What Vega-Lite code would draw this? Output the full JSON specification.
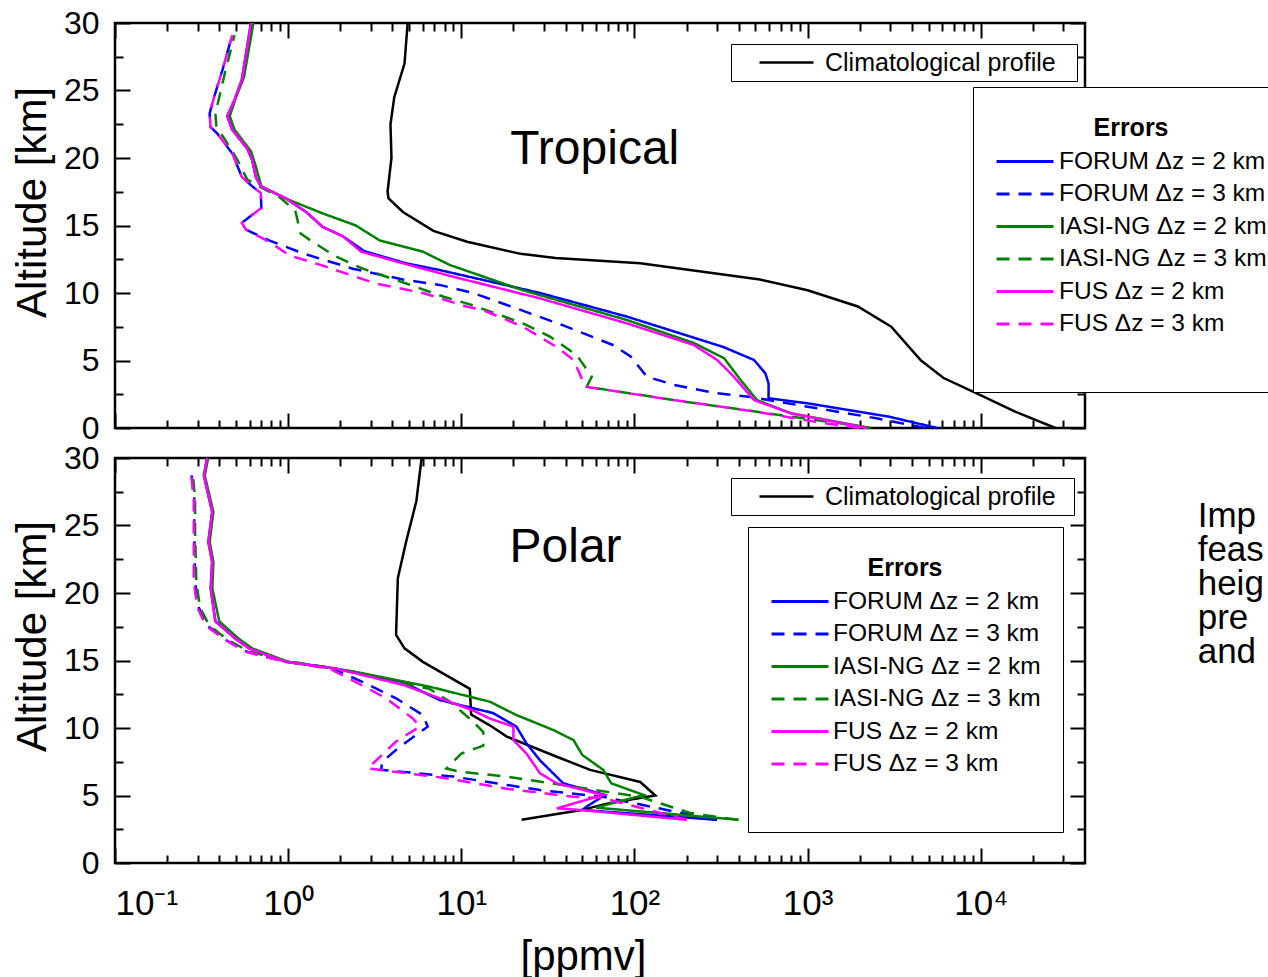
{
"$schema": "https://vega.github.io/schema/vega-lite/v6.json",
"autosize": {"type": "none"},
"padding": {"left": 115, "top": 23, "right": 1153, "bottom": 954},
"background": "white",
"config": {
  "font": "Liberation Sans",
  "view": {"stroke": "black", "strokeWidth": 2.5},
  "axis": {"grid": false, "domain": false, "tickColor": "black", "tickWidth": 2, "labelColor": "black", "titleColor": "black", "labelFont": "Liberation Sans", "titleFont": "Liberation Sans", "titleFontWeight": "normal", "labelFlush": false, "labelOverlap": false},
  "legend": {"labelFont": "Liberation Sans", "titleFont": "Liberation Sans", "labelColor": "black", "titleColor": "black"},
  "text": {"font": "Liberation Sans"}
},
"data": {"values": [
{"panel":"Tropical","series":"Climatological profile","alt":30,"ppmv":4.9},
{"panel":"Tropical","series":"Climatological profile","alt":27,"ppmv":4.7},
{"panel":"Tropical","series":"Climatological profile","alt":24.5,"ppmv":4.1},
{"panel":"Tropical","series":"Climatological profile","alt":22.5,"ppmv":3.9},
{"panel":"Tropical","series":"Climatological profile","alt":20,"ppmv":3.95},
{"panel":"Tropical","series":"Climatological profile","alt":17.5,"ppmv":3.75},
{"panel":"Tropical","series":"Climatological profile","alt":17,"ppmv":3.8},
{"panel":"Tropical","series":"Climatological profile","alt":16,"ppmv":4.6},
{"panel":"Tropical","series":"Climatological profile","alt":14.6,"ppmv":6.9},
{"panel":"Tropical","series":"Climatological profile","alt":13.8,"ppmv":10.8},
{"panel":"Tropical","series":"Climatological profile","alt":12.9,"ppmv":22},
{"panel":"Tropical","series":"Climatological profile","alt":12.6,"ppmv":35},
{"panel":"Tropical","series":"Climatological profile","alt":12.2,"ppmv":108},
{"panel":"Tropical","series":"Climatological profile","alt":11,"ppmv":530},
{"panel":"Tropical","series":"Climatological profile","alt":10.2,"ppmv":1000},
{"panel":"Tropical","series":"Climatological profile","alt":9,"ppmv":1950},
{"panel":"Tropical","series":"Climatological profile","alt":7.5,"ppmv":3040},
{"panel":"Tropical","series":"Climatological profile","alt":5,"ppmv":4520},
{"panel":"Tropical","series":"Climatological profile","alt":3.7,"ppmv":6100},
{"panel":"Tropical","series":"Climatological profile","alt":2.4,"ppmv":10100},
{"panel":"Tropical","series":"Climatological profile","alt":1.2,"ppmv":15900},
{"panel":"Tropical","series":"Climatological profile","alt":0,"ppmv":27000},

{"panel":"Tropical","series":"FORUM Δz = 2 km","alt":30,"ppmv":0.61},
{"panel":"Tropical","series":"FORUM Δz = 2 km","alt":25.8,"ppmv":0.54},
{"panel":"Tropical","series":"FORUM Δz = 2 km","alt":24.3,"ppmv":0.49},
{"panel":"Tropical","series":"FORUM Δz = 2 km","alt":23.1,"ppmv":0.445},
{"panel":"Tropical","series":"FORUM Δz = 2 km","alt":22.1,"ppmv":0.475},
{"panel":"Tropical","series":"FORUM Δz = 2 km","alt":20.7,"ppmv":0.58},
{"panel":"Tropical","series":"FORUM Δz = 2 km","alt":19.85,"ppmv":0.62},
{"panel":"Tropical","series":"FORUM Δz = 2 km","alt":18.6,"ppmv":0.65},
{"panel":"Tropical","series":"FORUM Δz = 2 km","alt":17.9,"ppmv":0.695},
{"panel":"Tropical","series":"FORUM Δz = 2 km","alt":17,"ppmv":0.97},
{"panel":"Tropical","series":"FORUM Δz = 2 km","alt":16,"ppmv":1.27},
{"panel":"Tropical","series":"FORUM Δz = 2 km","alt":14.9,"ppmv":1.58},
{"panel":"Tropical","series":"FORUM Δz = 2 km","alt":14.2,"ppmv":2.07},
{"panel":"Tropical","series":"FORUM Δz = 2 km","alt":13.1,"ppmv":2.75},
{"panel":"Tropical","series":"FORUM Δz = 2 km","alt":12.2,"ppmv":4.8},
{"panel":"Tropical","series":"FORUM Δz = 2 km","alt":11.7,"ppmv":7.5},
{"panel":"Tropical","series":"FORUM Δz = 2 km","alt":10,"ppmv":28.5},
{"panel":"Tropical","series":"FORUM Δz = 2 km","alt":8.25,"ppmv":90.5},
{"panel":"Tropical","series":"FORUM Δz = 2 km","alt":6,"ppmv":326},
{"panel":"Tropical","series":"FORUM Δz = 2 km","alt":5.04,"ppmv":490},
{"panel":"Tropical","series":"FORUM Δz = 2 km","alt":4.05,"ppmv":570},
{"panel":"Tropical","series":"FORUM Δz = 2 km","alt":3.3,"ppmv":595},
{"panel":"Tropical","series":"FORUM Δz = 2 km","alt":2.2,"ppmv":595},
{"panel":"Tropical","series":"FORUM Δz = 2 km","alt":1.83,"ppmv":1000},
{"panel":"Tropical","series":"FORUM Δz = 2 km","alt":0.84,"ppmv":2950},
{"panel":"Tropical","series":"FORUM Δz = 2 km","alt":0,"ppmv":5600},

{"panel":"Tropical","series":"FORUM Δz = 3 km","alt":29.1,"ppmv":0.475},
{"panel":"Tropical","series":"FORUM Δz = 3 km","alt":26.5,"ppmv":0.417},
{"panel":"Tropical","series":"FORUM Δz = 3 km","alt":24.5,"ppmv":0.373},
{"panel":"Tropical","series":"FORUM Δz = 3 km","alt":23.3,"ppmv":0.352},
{"panel":"Tropical","series":"FORUM Δz = 3 km","alt":22.3,"ppmv":0.356},
{"panel":"Tropical","series":"FORUM Δz = 3 km","alt":21.8,"ppmv":0.39},
{"panel":"Tropical","series":"FORUM Δz = 3 km","alt":20.35,"ppmv":0.475},
{"panel":"Tropical","series":"FORUM Δz = 3 km","alt":18.6,"ppmv":0.54},
{"panel":"Tropical","series":"FORUM Δz = 3 km","alt":17.9,"ppmv":0.62},
{"panel":"Tropical","series":"FORUM Δz = 3 km","alt":17.4,"ppmv":0.695},
{"panel":"Tropical","series":"FORUM Δz = 3 km","alt":16.3,"ppmv":0.7},
{"panel":"Tropical","series":"FORUM Δz = 3 km","alt":15.2,"ppmv":0.54},
{"panel":"Tropical","series":"FORUM Δz = 3 km","alt":14.7,"ppmv":0.57},
{"panel":"Tropical","series":"FORUM Δz = 3 km","alt":13.9,"ppmv":0.776},
{"panel":"Tropical","series":"FORUM Δz = 3 km","alt":12.9,"ppmv":1.24},
{"panel":"Tropical","series":"FORUM Δz = 3 km","alt":11.8,"ppmv":2.36},
{"panel":"Tropical","series":"FORUM Δz = 3 km","alt":11,"ppmv":4.6},
{"panel":"Tropical","series":"FORUM Δz = 3 km","alt":10.6,"ppmv":7.5},
{"panel":"Tropical","series":"FORUM Δz = 3 km","alt":10,"ppmv":11.7},
{"panel":"Tropical","series":"FORUM Δz = 3 km","alt":8.86,"ppmv":20.8},
{"panel":"Tropical","series":"FORUM Δz = 3 km","alt":7.6,"ppmv":38.8},
{"panel":"Tropical","series":"FORUM Δz = 3 km","alt":6.15,"ppmv":75},
{"panel":"Tropical","series":"FORUM Δz = 3 km","alt":5.3,"ppmv":95},
{"panel":"Tropical","series":"FORUM Δz = 3 km","alt":3.8,"ppmv":118},
{"panel":"Tropical","series":"FORUM Δz = 3 km","alt":3.2,"ppmv":168},
{"panel":"Tropical","series":"FORUM Δz = 3 km","alt":2.57,"ppmv":300},
{"panel":"Tropical","series":"FORUM Δz = 3 km","alt":2.3,"ppmv":470},
{"panel":"Tropical","series":"FORUM Δz = 3 km","alt":1.58,"ppmv":1000},
{"panel":"Tropical","series":"FORUM Δz = 3 km","alt":0.72,"ppmv":2500},
{"panel":"Tropical","series":"FORUM Δz = 3 km","alt":0,"ppmv":4800},

{"panel":"Tropical","series":"IASI-NG Δz = 2 km","alt":30,"ppmv":0.63},
{"panel":"Tropical","series":"IASI-NG Δz = 2 km","alt":26,"ppmv":0.556},
{"panel":"Tropical","series":"IASI-NG Δz = 2 km","alt":24.5,"ppmv":0.5},
{"panel":"Tropical","series":"IASI-NG Δz = 2 km","alt":23.1,"ppmv":0.46},
{"panel":"Tropical","series":"IASI-NG Δz = 2 km","alt":22.1,"ppmv":0.49},
{"panel":"Tropical","series":"IASI-NG Δz = 2 km","alt":20.5,"ppmv":0.61},
{"panel":"Tropical","series":"IASI-NG Δz = 2 km","alt":19.4,"ppmv":0.65},
{"panel":"Tropical","series":"IASI-NG Δz = 2 km","alt":17.9,"ppmv":0.7},
{"panel":"Tropical","series":"IASI-NG Δz = 2 km","alt":16.9,"ppmv":1.01},
{"panel":"Tropical","series":"IASI-NG Δz = 2 km","alt":15.9,"ppmv":1.58},
{"panel":"Tropical","series":"IASI-NG Δz = 2 km","alt":15,"ppmv":2.46},
{"panel":"Tropical","series":"IASI-NG Δz = 2 km","alt":13.9,"ppmv":3.37},
{"panel":"Tropical","series":"IASI-NG Δz = 2 km","alt":13.06,"ppmv":6},
{"panel":"Tropical","series":"IASI-NG Δz = 2 km","alt":12.07,"ppmv":8.6},
{"panel":"Tropical","series":"IASI-NG Δz = 2 km","alt":10.2,"ppmv":22.7},
{"panel":"Tropical","series":"IASI-NG Δz = 2 km","alt":8,"ppmv":90.5},
{"panel":"Tropical","series":"IASI-NG Δz = 2 km","alt":6.3,"ppmv":220},
{"panel":"Tropical","series":"IASI-NG Δz = 2 km","alt":5.16,"ppmv":330},
{"panel":"Tropical","series":"IASI-NG Δz = 2 km","alt":3.56,"ppmv":410},
{"panel":"Tropical","series":"IASI-NG Δz = 2 km","alt":2.07,"ppmv":510},
{"panel":"Tropical","series":"IASI-NG Δz = 2 km","alt":1.09,"ppmv":800},
{"panel":"Tropical","series":"IASI-NG Δz = 2 km","alt":0,"ppmv":2300},

{"panel":"Tropical","series":"IASI-NG Δz = 3 km","alt":29.1,"ppmv":0.49},
{"panel":"Tropical","series":"IASI-NG Δz = 3 km","alt":26.5,"ppmv":0.435},
{"panel":"Tropical","series":"IASI-NG Δz = 3 km","alt":24.5,"ppmv":0.4},
{"panel":"Tropical","series":"IASI-NG Δz = 3 km","alt":23.3,"ppmv":0.38},
{"panel":"Tropical","series":"IASI-NG Δz = 3 km","alt":22.3,"ppmv":0.385},
{"panel":"Tropical","series":"IASI-NG Δz = 3 km","alt":21.3,"ppmv":0.435},
{"panel":"Tropical","series":"IASI-NG Δz = 3 km","alt":19.85,"ppmv":0.51},
{"panel":"Tropical","series":"IASI-NG Δz = 3 km","alt":18.4,"ppmv":0.58},
{"panel":"Tropical","series":"IASI-NG Δz = 3 km","alt":17.9,"ppmv":0.68},
{"panel":"Tropical","series":"IASI-NG Δz = 3 km","alt":17.1,"ppmv":0.89},
{"panel":"Tropical","series":"IASI-NG Δz = 3 km","alt":16.1,"ppmv":1.1},
{"panel":"Tropical","series":"IASI-NG Δz = 3 km","alt":14.4,"ppmv":1.18},
{"panel":"Tropical","series":"IASI-NG Δz = 3 km","alt":13.8,"ppmv":1.38},
{"panel":"Tropical","series":"IASI-NG Δz = 3 km","alt":12.7,"ppmv":1.89},
{"panel":"Tropical","series":"IASI-NG Δz = 3 km","alt":11.8,"ppmv":2.7},
{"panel":"Tropical","series":"IASI-NG Δz = 3 km","alt":10.7,"ppmv":4.8},
{"panel":"Tropical","series":"IASI-NG Δz = 3 km","alt":9.7,"ppmv":8},
{"panel":"Tropical","series":"IASI-NG Δz = 3 km","alt":9.1,"ppmv":11.6},
{"panel":"Tropical","series":"IASI-NG Δz = 3 km","alt":7.75,"ppmv":22.7},
{"panel":"Tropical","series":"IASI-NG Δz = 3 km","alt":6.77,"ppmv":32.5},
{"panel":"Tropical","series":"IASI-NG Δz = 3 km","alt":5.4,"ppmv":46.4},
{"panel":"Tropical","series":"IASI-NG Δz = 3 km","alt":3.8,"ppmv":56.7},
{"panel":"Tropical","series":"IASI-NG Δz = 3 km","alt":3.06,"ppmv":53},
{"panel":"Tropical","series":"IASI-NG Δz = 3 km","alt":2.07,"ppmv":168},
{"panel":"Tropical","series":"IASI-NG Δz = 3 km","alt":1.2,"ppmv":510},
{"panel":"Tropical","series":"IASI-NG Δz = 3 km","alt":0.35,"ppmv":1530},
{"panel":"Tropical","series":"IASI-NG Δz = 3 km","alt":0,"ppmv":2300},

{"panel":"Tropical","series":"FUS Δz = 2 km","alt":30,"ppmv":0.61},
{"panel":"Tropical","series":"FUS Δz = 2 km","alt":25.8,"ppmv":0.54},
{"panel":"Tropical","series":"FUS Δz = 2 km","alt":24.3,"ppmv":0.49},
{"panel":"Tropical","series":"FUS Δz = 2 km","alt":23.1,"ppmv":0.445},
{"panel":"Tropical","series":"FUS Δz = 2 km","alt":22.1,"ppmv":0.475},
{"panel":"Tropical","series":"FUS Δz = 2 km","alt":20.7,"ppmv":0.58},
{"panel":"Tropical","series":"FUS Δz = 2 km","alt":19.85,"ppmv":0.62},
{"panel":"Tropical","series":"FUS Δz = 2 km","alt":18.6,"ppmv":0.65},
{"panel":"Tropical","series":"FUS Δz = 2 km","alt":17.9,"ppmv":0.695},
{"panel":"Tropical","series":"FUS Δz = 2 km","alt":17,"ppmv":0.97},
{"panel":"Tropical","series":"FUS Δz = 2 km","alt":16,"ppmv":1.27},
{"panel":"Tropical","series":"FUS Δz = 2 km","alt":14.9,"ppmv":1.58},
{"panel":"Tropical","series":"FUS Δz = 2 km","alt":14.2,"ppmv":2.07},
{"panel":"Tropical","series":"FUS Δz = 2 km","alt":13.06,"ppmv":2.64},
{"panel":"Tropical","series":"FUS Δz = 2 km","alt":12.2,"ppmv":4.6},
{"panel":"Tropical","series":"FUS Δz = 2 km","alt":11.2,"ppmv":9},
{"panel":"Tropical","series":"FUS Δz = 2 km","alt":9.6,"ppmv":28.5},
{"panel":"Tropical","series":"FUS Δz = 2 km","alt":7.75,"ppmv":90.5},
{"panel":"Tropical","series":"FUS Δz = 2 km","alt":6.15,"ppmv":220},
{"panel":"Tropical","series":"FUS Δz = 2 km","alt":5.04,"ppmv":300},
{"panel":"Tropical","series":"FUS Δz = 2 km","alt":3.8,"ppmv":375},
{"panel":"Tropical","series":"FUS Δz = 2 km","alt":2.07,"ppmv":490},
{"panel":"Tropical","series":"FUS Δz = 2 km","alt":1.09,"ppmv":800},
{"panel":"Tropical","series":"FUS Δz = 2 km","alt":0,"ppmv":2200},

{"panel":"Tropical","series":"FUS Δz = 3 km","alt":29.1,"ppmv":0.475},
{"panel":"Tropical","series":"FUS Δz = 3 km","alt":26.5,"ppmv":0.417},
{"panel":"Tropical","series":"FUS Δz = 3 km","alt":24.5,"ppmv":0.373},
{"panel":"Tropical","series":"FUS Δz = 3 km","alt":23.3,"ppmv":0.352},
{"panel":"Tropical","series":"FUS Δz = 3 km","alt":22.3,"ppmv":0.356},
{"panel":"Tropical","series":"FUS Δz = 3 km","alt":21.8,"ppmv":0.39},
{"panel":"Tropical","series":"FUS Δz = 3 km","alt":20.35,"ppmv":0.475},
{"panel":"Tropical","series":"FUS Δz = 3 km","alt":18.6,"ppmv":0.54},
{"panel":"Tropical","series":"FUS Δz = 3 km","alt":17.9,"ppmv":0.62},
{"panel":"Tropical","series":"FUS Δz = 3 km","alt":17.4,"ppmv":0.695},
{"panel":"Tropical","series":"FUS Δz = 3 km","alt":16.3,"ppmv":0.7},
{"panel":"Tropical","series":"FUS Δz = 3 km","alt":15.2,"ppmv":0.54},
{"panel":"Tropical","series":"FUS Δz = 3 km","alt":14.7,"ppmv":0.57},
{"panel":"Tropical","series":"FUS Δz = 3 km","alt":13.8,"ppmv":0.776},
{"panel":"Tropical","series":"FUS Δz = 3 km","alt":12.8,"ppmv":1.01},
{"panel":"Tropical","series":"FUS Δz = 3 km","alt":11.95,"ppmv":1.65},
{"panel":"Tropical","series":"FUS Δz = 3 km","alt":10.7,"ppmv":3.2},
{"panel":"Tropical","series":"FUS Δz = 3 km","alt":10,"ppmv":6},
{"panel":"Tropical","series":"FUS Δz = 3 km","alt":9,"ppmv":10.7},
{"panel":"Tropical","series":"FUS Δz = 3 km","alt":8.74,"ppmv":13.3},
{"panel":"Tropical","series":"FUS Δz = 3 km","alt":7.5,"ppmv":22.7},
{"panel":"Tropical","series":"FUS Δz = 3 km","alt":6,"ppmv":35.5},
{"panel":"Tropical","series":"FUS Δz = 3 km","alt":5.04,"ppmv":44.5},
{"panel":"Tropical","series":"FUS Δz = 3 km","alt":3.06,"ppmv":52},
{"panel":"Tropical","series":"FUS Δz = 3 km","alt":2.07,"ppmv":168},
{"panel":"Tropical","series":"FUS Δz = 3 km","alt":1.2,"ppmv":510},
{"panel":"Tropical","series":"FUS Δz = 3 km","alt":0.35,"ppmv":1250},
{"panel":"Tropical","series":"FUS Δz = 3 km","alt":0,"ppmv":2000},

{"panel":"Polar","series":"Climatological profile","alt":30,"ppmv":5.9},
{"panel":"Polar","series":"Climatological profile","alt":26.8,"ppmv":5.5},
{"panel":"Polar","series":"Climatological profile","alt":23.8,"ppmv":4.8},
{"panel":"Polar","series":"Climatological profile","alt":21.1,"ppmv":4.3},
{"panel":"Polar","series":"Climatological profile","alt":16.9,"ppmv":4.2},
{"panel":"Polar","series":"Climatological profile","alt":15.9,"ppmv":4.7},
{"panel":"Polar","series":"Climatological profile","alt":14.9,"ppmv":6},
{"panel":"Polar","series":"Climatological profile","alt":13.9,"ppmv":8.2},
{"panel":"Polar","series":"Climatological profile","alt":12.9,"ppmv":11.2},
{"panel":"Polar","series":"Climatological profile","alt":11,"ppmv":11.4},
{"panel":"Polar","series":"Climatological profile","alt":10.2,"ppmv":14.6},
{"panel":"Polar","series":"Climatological profile","alt":9.36,"ppmv":18.3},
{"panel":"Polar","series":"Climatological profile","alt":7.87,"ppmv":35.6},
{"panel":"Polar","series":"Climatological profile","alt":6.9,"ppmv":55.5},
{"panel":"Polar","series":"Climatological profile","alt":6,"ppmv":108},
{"panel":"Polar","series":"Climatological profile","alt":5,"ppmv":132},
{"panel":"Polar","series":"Climatological profile","alt":4.4,"ppmv":69.6},
{"panel":"Polar","series":"Climatological profile","alt":3.9,"ppmv":48.5},
{"panel":"Polar","series":"Climatological profile","alt":3.2,"ppmv":22.3},

{"panel":"Polar","series":"FORUM Δz = 2 km","alt":30,"ppmv":0.34},
{"panel":"Polar","series":"FORUM Δz = 2 km","alt":28.7,"ppmv":0.326},
{"panel":"Polar","series":"FORUM Δz = 2 km","alt":26,"ppmv":0.364},
{"panel":"Polar","series":"FORUM Δz = 2 km","alt":23.8,"ppmv":0.346},
{"panel":"Polar","series":"FORUM Δz = 2 km","alt":22.3,"ppmv":0.364},
{"panel":"Polar","series":"FORUM Δz = 2 km","alt":20.35,"ppmv":0.357},
{"panel":"Polar","series":"FORUM Δz = 2 km","alt":17.9,"ppmv":0.38},
{"panel":"Polar","series":"FORUM Δz = 2 km","alt":16.6,"ppmv":0.498},
{"panel":"Polar","series":"FORUM Δz = 2 km","alt":15.9,"ppmv":0.594},
{"panel":"Polar","series":"FORUM Δz = 2 km","alt":14.9,"ppmv":0.97},
{"panel":"Polar","series":"FORUM Δz = 2 km","alt":14.4,"ppmv":1.89},
{"panel":"Polar","series":"FORUM Δz = 2 km","alt":13.4,"ppmv":4.6},
{"panel":"Polar","series":"FORUM Δz = 2 km","alt":12.07,"ppmv":7.5},
{"panel":"Polar","series":"FORUM Δz = 2 km","alt":11.1,"ppmv":15.3},
{"panel":"Polar","series":"FORUM Δz = 2 km","alt":10.1,"ppmv":20.8},
{"panel":"Polar","series":"FORUM Δz = 2 km","alt":8.86,"ppmv":23.8},
{"panel":"Polar","series":"FORUM Δz = 2 km","alt":7.6,"ppmv":28.5},
{"panel":"Polar","series":"FORUM Δz = 2 km","alt":5.9,"ppmv":38.8},
{"panel":"Polar","series":"FORUM Δz = 2 km","alt":5.04,"ppmv":67.6},
{"panel":"Polar","series":"FORUM Δz = 2 km","alt":4.17,"ppmv":52.8},
{"panel":"Polar","series":"FORUM Δz = 2 km","alt":3.93,"ppmv":50},
{"panel":"Polar","series":"FORUM Δz = 2 km","alt":3.2,"ppmv":300},

{"panel":"Polar","series":"FORUM Δz = 3 km","alt":29.1,"ppmv":0.275},
{"panel":"Polar","series":"FORUM Δz = 3 km","alt":27,"ppmv":0.287},
{"panel":"Polar","series":"FORUM Δz = 3 km","alt":24.5,"ppmv":0.287},
{"panel":"Polar","series":"FORUM Δz = 3 km","alt":20.8,"ppmv":0.29},
{"panel":"Polar","series":"FORUM Δz = 3 km","alt":18.9,"ppmv":0.305},
{"panel":"Polar","series":"FORUM Δz = 3 km","alt":17.6,"ppmv":0.34},
{"panel":"Polar","series":"FORUM Δz = 3 km","alt":16.5,"ppmv":0.44},
{"panel":"Polar","series":"FORUM Δz = 3 km","alt":15.65,"ppmv":0.58},
{"panel":"Polar","series":"FORUM Δz = 3 km","alt":15,"ppmv":0.9},
{"panel":"Polar","series":"FORUM Δz = 3 km","alt":14.4,"ppmv":1.8},
{"panel":"Polar","series":"FORUM Δz = 3 km","alt":13.4,"ppmv":2.7},
{"panel":"Polar","series":"FORUM Δz = 3 km","alt":12.2,"ppmv":4.2},
{"panel":"Polar","series":"FORUM Δz = 3 km","alt":10.96,"ppmv":6},
{"panel":"Polar","series":"FORUM Δz = 3 km","alt":10.1,"ppmv":6.4},
{"panel":"Polar","series":"FORUM Δz = 3 km","alt":8.6,"ppmv":4.4},
{"panel":"Polar","series":"FORUM Δz = 3 km","alt":7.5,"ppmv":3.5},
{"panel":"Polar","series":"FORUM Δz = 3 km","alt":6.9,"ppmv":3.44},
{"panel":"Polar","series":"FORUM Δz = 3 km","alt":6.4,"ppmv":9},
{"panel":"Polar","series":"FORUM Δz = 3 km","alt":5.4,"ppmv":28.5},
{"panel":"Polar","series":"FORUM Δz = 3 km","alt":4.9,"ppmv":66},
{"panel":"Polar","series":"FORUM Δz = 3 km","alt":3.2,"ppmv":290},

{"panel":"Polar","series":"IASI-NG Δz = 2 km","alt":30,"ppmv":0.345},
{"panel":"Polar","series":"IASI-NG Δz = 2 km","alt":28.7,"ppmv":0.33},
{"panel":"Polar","series":"IASI-NG Δz = 2 km","alt":26,"ppmv":0.37},
{"panel":"Polar","series":"IASI-NG Δz = 2 km","alt":23.8,"ppmv":0.352},
{"panel":"Polar","series":"IASI-NG Δz = 2 km","alt":22.3,"ppmv":0.37},
{"panel":"Polar","series":"IASI-NG Δz = 2 km","alt":20.35,"ppmv":0.365},
{"panel":"Polar","series":"IASI-NG Δz = 2 km","alt":17.9,"ppmv":0.4},
{"panel":"Polar","series":"IASI-NG Δz = 2 km","alt":16.6,"ppmv":0.52},
{"panel":"Polar","series":"IASI-NG Δz = 2 km","alt":15.9,"ppmv":0.62},
{"panel":"Polar","series":"IASI-NG Δz = 2 km","alt":14.9,"ppmv":1},
{"panel":"Polar","series":"IASI-NG Δz = 2 km","alt":14.2,"ppmv":2.36},
{"panel":"Polar","series":"IASI-NG Δz = 2 km","alt":13.06,"ppmv":6.55},
{"panel":"Polar","series":"IASI-NG Δz = 2 km","alt":11.95,"ppmv":14.6},
{"panel":"Polar","series":"IASI-NG Δz = 2 km","alt":10.96,"ppmv":20.8},
{"panel":"Polar","series":"IASI-NG Δz = 2 km","alt":9.85,"ppmv":34},
{"panel":"Polar","series":"IASI-NG Δz = 2 km","alt":9.1,"ppmv":44.5},
{"panel":"Polar","series":"IASI-NG Δz = 2 km","alt":8,"ppmv":50},
{"panel":"Polar","series":"IASI-NG Δz = 2 km","alt":6.9,"ppmv":66},
{"panel":"Polar","series":"IASI-NG Δz = 2 km","alt":5.9,"ppmv":73.5},
{"panel":"Polar","series":"IASI-NG Δz = 2 km","alt":5.04,"ppmv":113},
{"panel":"Polar","series":"IASI-NG Δz = 2 km","alt":4.1,"ppmv":60},
{"panel":"Polar","series":"IASI-NG Δz = 2 km","alt":3.2,"ppmv":400},

{"panel":"Polar","series":"IASI-NG Δz = 3 km","alt":29.1,"ppmv":0.28},
{"panel":"Polar","series":"IASI-NG Δz = 3 km","alt":27,"ppmv":0.29},
{"panel":"Polar","series":"IASI-NG Δz = 3 km","alt":24.5,"ppmv":0.29},
{"panel":"Polar","series":"IASI-NG Δz = 3 km","alt":20.8,"ppmv":0.295},
{"panel":"Polar","series":"IASI-NG Δz = 3 km","alt":18.9,"ppmv":0.31},
{"panel":"Polar","series":"IASI-NG Δz = 3 km","alt":17.6,"ppmv":0.35},
{"panel":"Polar","series":"IASI-NG Δz = 3 km","alt":16.5,"ppmv":0.45},
{"panel":"Polar","series":"IASI-NG Δz = 3 km","alt":15.65,"ppmv":0.6},
{"panel":"Polar","series":"IASI-NG Δz = 3 km","alt":15,"ppmv":0.95},
{"panel":"Polar","series":"IASI-NG Δz = 3 km","alt":14.4,"ppmv":1.9},
{"panel":"Polar","series":"IASI-NG Δz = 3 km","alt":13.6,"ppmv":3.5},
{"panel":"Polar","series":"IASI-NG Δz = 3 km","alt":12.9,"ppmv":6.55},
{"panel":"Polar","series":"IASI-NG Δz = 3 km","alt":11.95,"ppmv":8.6},
{"panel":"Polar","series":"IASI-NG Δz = 3 km","alt":10.6,"ppmv":11.4},
{"panel":"Polar","series":"IASI-NG Δz = 3 km","alt":9.7,"ppmv":13.4},
{"panel":"Polar","series":"IASI-NG Δz = 3 km","alt":8.7,"ppmv":13.4},
{"panel":"Polar","series":"IASI-NG Δz = 3 km","alt":8.1,"ppmv":10},
{"panel":"Polar","series":"IASI-NG Δz = 3 km","alt":7,"ppmv":8.2},
{"panel":"Polar","series":"IASI-NG Δz = 3 km","alt":6.76,"ppmv":9.8},
{"panel":"Polar","series":"IASI-NG Δz = 3 km","alt":6.4,"ppmv":18.3},
{"panel":"Polar","series":"IASI-NG Δz = 3 km","alt":5.65,"ppmv":44.5},
{"panel":"Polar","series":"IASI-NG Δz = 3 km","alt":4.9,"ppmv":108},
{"panel":"Polar","series":"IASI-NG Δz = 3 km","alt":3.7,"ppmv":210},
{"panel":"Polar","series":"IASI-NG Δz = 3 km","alt":3.2,"ppmv":395},

{"panel":"Polar","series":"FUS Δz = 2 km","alt":30,"ppmv":0.34},
{"panel":"Polar","series":"FUS Δz = 2 km","alt":28.7,"ppmv":0.326},
{"panel":"Polar","series":"FUS Δz = 2 km","alt":26,"ppmv":0.364},
{"panel":"Polar","series":"FUS Δz = 2 km","alt":23.8,"ppmv":0.346},
{"panel":"Polar","series":"FUS Δz = 2 km","alt":22.3,"ppmv":0.364},
{"panel":"Polar","series":"FUS Δz = 2 km","alt":20.35,"ppmv":0.357},
{"panel":"Polar","series":"FUS Δz = 2 km","alt":17.9,"ppmv":0.38},
{"panel":"Polar","series":"FUS Δz = 2 km","alt":16.6,"ppmv":0.498},
{"panel":"Polar","series":"FUS Δz = 2 km","alt":15.9,"ppmv":0.594},
{"panel":"Polar","series":"FUS Δz = 2 km","alt":14.9,"ppmv":0.97},
{"panel":"Polar","series":"FUS Δz = 2 km","alt":14.4,"ppmv":1.89},
{"panel":"Polar","series":"FUS Δz = 2 km","alt":13.2,"ppmv":4.6},
{"panel":"Polar","series":"FUS Δz = 2 km","alt":12.2,"ppmv":7.5},
{"panel":"Polar","series":"FUS Δz = 2 km","alt":11.3,"ppmv":11.7},
{"panel":"Polar","series":"FUS Δz = 2 km","alt":10.7,"ppmv":14.6},
{"panel":"Polar","series":"FUS Δz = 2 km","alt":10.1,"ppmv":20},
{"panel":"Polar","series":"FUS Δz = 2 km","alt":9.1,"ppmv":20},
{"panel":"Polar","series":"FUS Δz = 2 km","alt":8.1,"ppmv":23.8},
{"panel":"Polar","series":"FUS Δz = 2 km","alt":6.64,"ppmv":28.5},
{"panel":"Polar","series":"FUS Δz = 2 km","alt":5.9,"ppmv":35.6},
{"panel":"Polar","series":"FUS Δz = 2 km","alt":5.04,"ppmv":66},
{"panel":"Polar","series":"FUS Δz = 2 km","alt":4.05,"ppmv":35.6},
{"panel":"Polar","series":"FUS Δz = 2 km","alt":3.93,"ppmv":48.5},
{"panel":"Polar","series":"FUS Δz = 2 km","alt":3.2,"ppmv":200},

{"panel":"Polar","series":"FUS Δz = 3 km","alt":29.1,"ppmv":0.273},
{"panel":"Polar","series":"FUS Δz = 3 km","alt":27,"ppmv":0.285},
{"panel":"Polar","series":"FUS Δz = 3 km","alt":24.5,"ppmv":0.285},
{"panel":"Polar","series":"FUS Δz = 3 km","alt":20.8,"ppmv":0.285},
{"panel":"Polar","series":"FUS Δz = 3 km","alt":18.9,"ppmv":0.3},
{"panel":"Polar","series":"FUS Δz = 3 km","alt":17.6,"ppmv":0.334},
{"panel":"Polar","series":"FUS Δz = 3 km","alt":16.5,"ppmv":0.435},
{"panel":"Polar","series":"FUS Δz = 3 km","alt":15.65,"ppmv":0.57},
{"panel":"Polar","series":"FUS Δz = 3 km","alt":15,"ppmv":0.89},
{"panel":"Polar","series":"FUS Δz = 3 km","alt":14.4,"ppmv":1.73},
{"panel":"Polar","series":"FUS Δz = 3 km","alt":13.4,"ppmv":2.46},
{"panel":"Polar","series":"FUS Δz = 3 km","alt":12.2,"ppmv":3.68},
{"panel":"Polar","series":"FUS Δz = 3 km","alt":10.7,"ppmv":5.26},
{"panel":"Polar","series":"FUS Δz = 3 km","alt":10.1,"ppmv":5.75},
{"panel":"Polar","series":"FUS Δz = 3 km","alt":9,"ppmv":4.2},
{"panel":"Polar","series":"FUS Δz = 3 km","alt":7,"ppmv":2.88},
{"panel":"Polar","series":"FUS Δz = 3 km","alt":6.9,"ppmv":3.37},
{"panel":"Polar","series":"FUS Δz = 3 km","alt":6.3,"ppmv":8},
{"panel":"Polar","series":"FUS Δz = 3 km","alt":5.5,"ppmv":18.3},
{"panel":"Polar","series":"FUS Δz = 3 km","alt":4.9,"ppmv":44.5},
{"panel":"Polar","series":"FUS Δz = 3 km","alt":4.8,"ppmv":66},
{"panel":"Polar","series":"FUS Δz = 3 km","alt":3.2,"ppmv":200}
]},
"spacing": 30,
"bounds": "flush",
"resolve": {"scale": {"color": "independent", "stroke": "independent", "strokeDash": "independent"}, "legend": {"color": "independent", "stroke": "independent", "strokeDash": "independent"}},
"vconcat": [
{
  "width": 970, "height": 405,
  "transform": [{"filter": "datum.panel == 'Tropical'"}],
  "resolve": {"axis": {"x": "independent", "y": "independent"}},
  "layer": [
    {
      "transform": [{"filter": "datum.series == 'Climatological profile'"}],
      "mark": {"type": "line", "strokeWidth": 2.5},
      "encoding": {
        "x": {"field": "ppmv", "type": "quantitative", "scale": {"type": "log", "domain": [0.1, 40000], "nice": false}, "axis": {"orient": "bottom", "values": [0.1, 1, 10, 100, 1000, 10000], "tickSize": 15, "offset": -15, "labels": false, "title": null}},
        "y": {"field": "alt", "type": "quantitative", "scale": {"domain": [0, 30], "nice": false, "zero": false}, "axis": {"orient": "left", "values": [0, 5, 10, 15, 20, 25, 30], "tickSize": 15, "offset": -15, "labelFontSize": 32, "labelPadding": 16, "title": "Altitude [km]", "titleFontSize": 42, "titlePadding": 9, "titleY": 179}},
        "stroke": {"field": "series", "type": "nominal", "scale": {"domain": ["Climatological profile"], "range": ["black"]}, "legend": {"title": " ", "titleOrient": "right", "titlePadding": 17, "titleFontSize": 25, "orient": "none", "legendX": 616, "legendY": 21, "strokeColor": "black", "fillColor": "white", "padding": 4.5, "clipHeight": 28, "symbolType": "stroke", "symbolSize": 2916, "symbolStrokeWidth": 2.5, "symbolOffset": 22.5, "labelFontSize": 25, "labelOffset": 10, "labelLimit": 500}},
        "order": {"field": "alt", "type": "quantitative"}
      }
    },
    {
      "transform": [{"filter": "datum.series != 'Climatological profile'"}],
      "mark": {"type": "line", "strokeWidth": 2.5},
      "encoding": {
        "x": {"field": "ppmv", "type": "quantitative", "scale": {"type": "log", "domain": [0.1, 40000], "nice": false}, "axis": {"orient": "top", "values": [0.1, 1, 10, 100, 1000, 10000], "tickSize": 15, "offset": -15, "labels": false, "title": null}},
        "y": {"field": "alt", "type": "quantitative", "scale": {"domain": [0, 30], "nice": false, "zero": false}, "axis": {"orient": "right", "values": [0, 5, 10, 15, 20, 25, 30], "tickSize": 15, "offset": -15, "labels": false, "title": null}},
        "color": {"field": "series", "type": "nominal", "scale": {"domain": ["FORUM Δz = 2 km", "FORUM Δz = 3 km", "IASI-NG Δz = 2 km", "IASI-NG Δz = 3 km", "FUS Δz = 2 km", "FUS Δz = 3 km", ""], "range": ["#0000ff", "#0000ff", "#008000", "#008000", "#ff00ff", "#ff00ff", "transparent"]}, "legend": {"title": ["", "Errors"], "titleLineHeight": 7, "orient": "none", "legendX": 858, "legendY": 64, "strokeColor": "black", "fillColor": "white", "padding": 22, "clipHeight": 27, "titleFontSize": 25, "titleFontWeight": "bold", "titleAnchor": "middle", "titlePadding": 7, "symbolType": "stroke", "symbolSize": 3249, "symbolStrokeWidth": 3, "labelFontSize": 24.5, "labelOffset": 4, "labelLimit": 500, "rowPadding": 5.5}},
        "strokeDash": {"field": "series", "type": "nominal", "scale": {"domain": ["FORUM Δz = 2 km", "FORUM Δz = 3 km", "IASI-NG Δz = 2 km", "IASI-NG Δz = 3 km", "FUS Δz = 2 km", "FUS Δz = 3 km", ""], "range": [[1, 0], [13, 9], [1, 0], [13, 9], [1, 0], [13, 9], [1, 0]]}, "legend": {"title": ["", "Errors"], "titleLineHeight": 7, "orient": "none", "legendX": 858, "legendY": 64, "strokeColor": "black", "fillColor": "white", "padding": 22, "clipHeight": 27, "titleFontSize": 25, "titleFontWeight": "bold", "titleAnchor": "middle", "titlePadding": 7, "symbolType": "stroke", "symbolSize": 3249, "symbolStrokeWidth": 3, "labelFontSize": 24.5, "labelOffset": 4, "labelLimit": 500, "rowPadding": 5.5}},
        "order": {"field": "alt", "type": "quantitative"}
      }
    },
    {
      "mark": {"type": "point", "opacity": 0},
      "encoding": {
        "x": {"field": "ppmv", "type": "quantitative", "scale": {"type": "log", "domain": [0.1, 40000], "nice": false}, "axis": {"orient": "bottom", "values": [0.2,0.3,0.4,0.5,0.6,0.7,0.8,0.9,2,3,4,5,6,7,8,9,20,30,40,50,60,70,80,90,200,300,400,500,600,700,800,900,2000,3000,4000,5000,6000,7000,8000,9000,20000,30000], "tickSize": 8, "offset": -8, "labels": false, "title": null}},
        "y": {"field": "alt", "type": "quantitative", "scale": {"domain": [0, 30], "nice": false, "zero": false}, "axis": {"orient": "left", "values": [2.5, 7.5, 12.5, 17.5, 22.5, 27.5], "tickSize": 8, "offset": -8, "labels": false, "title": null}}
      }
    },
    {
      "mark": {"type": "point", "opacity": 0},
      "encoding": {
        "x": {"field": "ppmv", "type": "quantitative", "scale": {"type": "log", "domain": [0.1, 40000], "nice": false}, "axis": {"orient": "top", "values": [0.2,0.3,0.4,0.5,0.6,0.7,0.8,0.9,2,3,4,5,6,7,8,9,20,30,40,50,60,70,80,90,200,300,400,500,600,700,800,900,2000,3000,4000,5000,6000,7000,8000,9000,20000,30000], "tickSize": 8, "offset": -8, "labels": false, "title": null}},
        "y": {"field": "alt", "type": "quantitative", "scale": {"domain": [0, 30], "nice": false, "zero": false}, "axis": {"orient": "right", "values": [2.5, 7.5, 12.5, 17.5, 22.5, 27.5], "tickSize": 8, "offset": -8, "labels": false, "title": null}}
      }
    },
    {
      "data": {"values": [{"label": "Tropical"}]},
      "mark": {"type": "text", "fontSize": 48, "align": "center", "baseline": "middle", "color": "black"},
      "encoding": {
        "x": {"datum": 59, "type": "quantitative", "scale": {"type": "log", "domain": [0.1, 40000], "nice": false}, "axis": null},
        "y": {"datum": 20.6, "type": "quantitative", "scale": {"domain": [0, 30], "nice": false, "zero": false}, "axis": null},
        "text": {"field": "label"}
      }
    }
  ]
},
{
  "width": 970, "height": 405,
  "transform": [{"filter": "datum.panel == 'Polar'"}],
  "resolve": {"axis": {"x": "independent", "y": "independent"}},
  "layer": [
    {
      "transform": [{"filter": "datum.series == 'Climatological profile'"}],
      "mark": {"type": "line", "strokeWidth": 2.5},
      "encoding": {
        "x": {"field": "ppmv", "type": "quantitative", "scale": {"type": "log", "domain": [0.1, 40000], "nice": false}, "axis": {"orient": "bottom", "values": [0.1, 1, 10, 100, 1000, 10000], "tickSize": 15, "offset": -15, "labelFontSize": 35, "labelPadding": 23, "labelFlush": true, "labelExpr": "datum.value == 0.1 ? '10\u207b\u00b9' : datum.value == 1 ? '10\u2070' : datum.value == 10 ? '10\u00b9' : datum.value == 100 ? '10\u00b2' : datum.value == 1000 ? '10\u00b3' : '10\u2074'", "title": "[ppmv]", "titleFontSize": 42, "titlePadding": 15, "titleX": 468}},
        "y": {"field": "alt", "type": "quantitative", "scale": {"domain": [0, 30], "nice": false, "zero": false}, "axis": {"orient": "left", "values": [0, 5, 10, 15, 20, 25, 30], "tickSize": 15, "offset": -15, "labelFontSize": 32, "labelPadding": 16, "title": "Altitude [km]", "titleFontSize": 42, "titlePadding": 9, "titleY": 178}},
        "stroke": {"field": "series", "type": "nominal", "scale": {"domain": ["Climatological profile"], "range": ["black"]}, "legend": {"title": " ", "titleOrient": "right", "titlePadding": 14, "titleFontSize": 25, "orient": "none", "legendX": 616, "legendY": 20, "strokeColor": "black", "fillColor": "white", "padding": 4.5, "clipHeight": 28, "symbolType": "stroke", "symbolSize": 2916, "symbolStrokeWidth": 2.5, "symbolOffset": 22.5, "labelFontSize": 25, "labelOffset": 10, "labelLimit": 500}},
        "order": {"field": "alt", "type": "quantitative"}
      }
    },
    {
      "transform": [{"filter": "datum.series != 'Climatological profile'"}],
      "mark": {"type": "line", "strokeWidth": 2.5},
      "encoding": {
        "x": {"field": "ppmv", "type": "quantitative", "scale": {"type": "log", "domain": [0.1, 40000], "nice": false}, "axis": {"orient": "top", "values": [0.1, 1, 10, 100, 1000, 10000], "tickSize": 15, "offset": -15, "labels": false, "title": null}},
        "y": {"field": "alt", "type": "quantitative", "scale": {"domain": [0, 30], "nice": false, "zero": false}, "axis": {"orient": "right", "values": [0, 5, 10, 15, 20, 25, 30], "tickSize": 15, "offset": -15, "labels": false, "title": null}},
        "color": {"field": "series", "type": "nominal", "scale": {"domain": ["FORUM Δz = 2 km", "FORUM Δz = 3 km", "IASI-NG Δz = 2 km", "IASI-NG Δz = 3 km", "FUS Δz = 2 km", "FUS Δz = 3 km", ""], "range": ["#0000ff", "#0000ff", "#008000", "#008000", "#ff00ff", "#ff00ff", "transparent"]}, "legend": {"title": ["", "Errors"], "titleLineHeight": 7, "orient": "none", "legendX": 633, "legendY": 69, "strokeColor": "black", "fillColor": "white", "padding": 22, "clipHeight": 27, "symbolOffset": 0, "titleFontSize": 25, "titleFontWeight": "bold", "titleAnchor": "middle", "titlePadding": 7, "symbolType": "stroke", "symbolSize": 3249, "symbolStrokeWidth": 3, "labelFontSize": 24.5, "labelOffset": 3, "labelLimit": 500, "rowPadding": 5.5}},
        "strokeDash": {"field": "series", "type": "nominal", "scale": {"domain": ["FORUM Δz = 2 km", "FORUM Δz = 3 km", "IASI-NG Δz = 2 km", "IASI-NG Δz = 3 km", "FUS Δz = 2 km", "FUS Δz = 3 km", ""], "range": [[1, 0], [13, 9], [1, 0], [13, 9], [1, 0], [13, 9], [1, 0]]}, "legend": {"title": ["", "Errors"], "titleLineHeight": 7, "orient": "none", "legendX": 633, "legendY": 69, "strokeColor": "black", "fillColor": "white", "padding": 22, "clipHeight": 27, "symbolOffset": 0, "titleFontSize": 25, "titleFontWeight": "bold", "titleAnchor": "middle", "titlePadding": 7, "symbolType": "stroke", "symbolSize": 3249, "symbolStrokeWidth": 3, "labelFontSize": 24.5, "labelOffset": 3, "labelLimit": 500, "rowPadding": 5.5}},
        "order": {"field": "alt", "type": "quantitative"}
      }
    },
    {
      "mark": {"type": "point", "opacity": 0},
      "encoding": {
        "x": {"field": "ppmv", "type": "quantitative", "scale": {"type": "log", "domain": [0.1, 40000], "nice": false}, "axis": {"orient": "bottom", "values": [0.2,0.3,0.4,0.5,0.6,0.7,0.8,0.9,2,3,4,5,6,7,8,9,20,30,40,50,60,70,80,90,200,300,400,500,600,700,800,900,2000,3000,4000,5000,6000,7000,8000,9000,20000,30000], "tickSize": 8, "offset": -8, "labels": false, "title": null}},
        "y": {"field": "alt", "type": "quantitative", "scale": {"domain": [0, 30], "nice": false, "zero": false}, "axis": {"orient": "left", "values": [2.5, 7.5, 12.5, 17.5, 22.5, 27.5], "tickSize": 8, "offset": -8, "labels": false, "title": null}}
      }
    },
    {
      "mark": {"type": "point", "opacity": 0},
      "encoding": {
        "x": {"field": "ppmv", "type": "quantitative", "scale": {"type": "log", "domain": [0.1, 40000], "nice": false}, "axis": {"orient": "top", "values": [0.2,0.3,0.4,0.5,0.6,0.7,0.8,0.9,2,3,4,5,6,7,8,9,20,30,40,50,60,70,80,90,200,300,400,500,600,700,800,900,2000,3000,4000,5000,6000,7000,8000,9000,20000,30000], "tickSize": 8, "offset": -8, "labels": false, "title": null}},
        "y": {"field": "alt", "type": "quantitative", "scale": {"domain": [0, 30], "nice": false, "zero": false}, "axis": {"orient": "right", "values": [2.5, 7.5, 12.5, 17.5, 22.5, 27.5], "tickSize": 8, "offset": -8, "labels": false, "title": null}}
      }
    },
    {
      "data": {"values": [{"label": "Polar"}]},
      "mark": {"type": "text", "fontSize": 48, "align": "center", "baseline": "middle", "color": "black"},
      "encoding": {
        "x": {"datum": 40, "type": "quantitative", "scale": {"type": "log", "domain": [0.1, 40000], "nice": false}, "axis": null},
        "y": {"datum": 23.3, "type": "quantitative", "scale": {"domain": [0, 30], "nice": false, "zero": false}, "axis": null},
        "text": {"field": "label"}
      }
    },
    {
      "data": {"values": [{"words": ["Imp", "feas", "heig", "pre", "and"]}]},
      "mark": {"type": "text", "fontSize": 35, "align": "left", "baseline": "top", "lineHeight": 34, "color": "black", "clip": false},
      "encoding": {
        "x": {"datum": 179000, "type": "quantitative", "scale": {"type": "log", "domain": [0.1, 40000], "nice": false}, "axis": null},
        "y": {"datum": 27.0, "type": "quantitative", "scale": {"domain": [0, 30], "nice": false, "zero": false}, "axis": null},
        "text": {"field": "words"}
      }
    }
  ]
}
]
}
